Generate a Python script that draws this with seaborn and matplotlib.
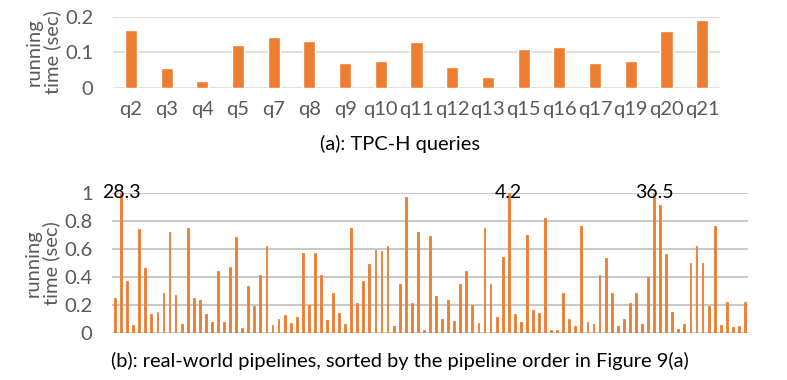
import seaborn as sns
import pandas as pd
import matplotlib.pyplot as plt

# (a) TPC-H queries
queries = ["q2", "q3", "q4", "q5", "q7", "q8", "q9", "q10", "q11",
           "q12", "q13", "q15", "q16", "q17", "q19", "q20", "q21"]
tpch_time = [0.162, 0.055, 0.018, 0.121, 0.142, 0.131, 0.069, 0.074, 0.127,
             0.057, 0.030, 0.108, 0.115, 0.068, 0.074, 0.159, 0.189]

# (b) real-world pipelines (values above 1 are clipped and labelled)
pipeline_time = [
    0.25, 28.3, 0.37, 0.055, 0.74, 0.46, 0.13, 0.15, 0.28, 0.72,
    0.27, 0.06, 0.75, 0.25, 0.23, 0.135, 0.075, 0.44, 0.075, 0.47,
    0.68, 0.03, 0.33, 0.19, 0.41, 0.62, 0.055, 0.095, 0.124, 0.067,
    0.11, 0.57, 0.20, 0.57, 0.41, 0.09, 0.28, 0.14, 0.062, 0.75,
    0.21, 0.37, 0.49, 0.59, 0.58, 0.62, 0.05, 0.35, 0.97, 0.21,
    0.72, 0.02, 0.69, 0.26, 0.10, 0.23, 0.08, 0.35, 0.44, 0.20,
    0.067, 0.75, 0.35, 0.11, 0.54, 4.2, 0.13, 0.075, 0.70, 0.16,
    0.14, 0.82, 0.02, 0.02, 0.28, 0.10, 0.05, 0.76, 0.075, 0.062,
    0.41, 0.53, 0.28, 0.05, 0.10, 0.21, 0.28, 0.062, 0.40, 36.5,
    0.91, 0.56, 0.15, 0.026, 0.062, 0.50, 0.62, 0.50, 0.19, 0.76,
    0.055, 0.22, 0.043, 0.048, 0.22,
]

orange = "#ED7D31"
grey_txt = "#595959"

sns.set_style("white")
plt.rcParams["font.family"] = ["Lato", "DejaVu Sans"]

fig = plt.figure(figsize=(7.87, 3.80), dpi=100)
ax1 = fig.add_axes([0.1436, 0.7697, 0.7713, 0.1868])
ax2 = fig.add_axes([0.1423, 0.1245, 0.8081, 0.3684])

# top chart
df_a = pd.DataFrame({"query": queries, "time": tpch_time})
sns.barplot(data=df_a, x="query", y="time", color=orange, width=0.34,
            saturation=1, ax=ax1, zorder=3)
ax1.set_ylim(0, 0.2)
ax1.set_yticks([0, 0.1, 0.2])
ax1.set_yticklabels(["0", "0.1", "0.2"])
ax1.set_xlim(-0.5, len(queries) - 0.5)
ax1.yaxis.grid(True, color="#d9d9d9", linewidth=1.2, zorder=0)
ax1.set_xlabel("(a): TPC-H queries", fontsize=14.4, color="black", labelpad=12)
ax1.xaxis.label.set_x(0.473)
ax1.set_ylabel("running\ntime (sec)", fontsize=14.5, color=grey_txt,
               linespacing=1.05, labelpad=3)

# bottom chart
shown = [min(v, 1.0) for v in pipeline_time]
df_b = pd.DataFrame({"pipeline": [str(i) for i in range(len(shown))],
                     "time": shown})
sns.barplot(data=df_b, x="pipeline", y="time", color=orange, width=0.3,
            saturation=1, edgecolor=orange, linewidth=0.6, ax=ax2, zorder=3)
for i, v in enumerate(pipeline_time):
    if v > 1:
        ax2.text(i, 1.0, f"{v:.1f}", ha="center", va="center",
                 fontsize=14, color="black", zorder=5)
ax2.set_ylim(0, 1)
ax2.set_yticks([0, 0.2, 0.4, 0.6, 0.8, 1.0])
ax2.set_yticklabels(["0", "0.2", "0.4", "0.6", "0.8", "1"])
ax2.set_xlim(-0.5, len(shown) - 0.5)
ax2.set_xticks([])
ax2.yaxis.grid(True, color="#bfbfbf", linewidth=1.2, zorder=0)
ax2.set_xlabel("(b): real-world pipelines, sorted by the pipeline order in Figure 9(a)",
               fontsize=14.4, color="black", labelpad=14)
ax2.xaxis.label.set_x(0.453)
ax2.set_ylabel("running\ntime (sec)", fontsize=14.5, color=grey_txt,
               linespacing=1.05, labelpad=3)

for ax in (ax1, ax2):
    sns.despine(ax=ax, left=True, bottom=True)
    ax.tick_params(axis="both", length=0, labelsize=14.5, colors=grey_txt)
    ax.tick_params(axis="y", pad=14)
ax1.tick_params(axis="x", pad=10)

fig.savefig("out.png", dpi=100)
